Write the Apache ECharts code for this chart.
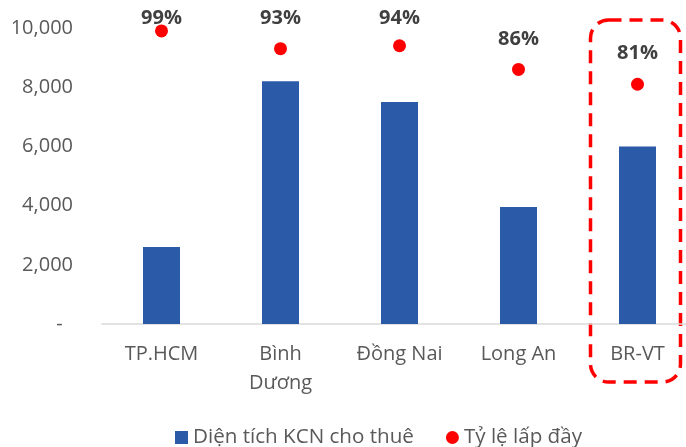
<!DOCTYPE html>
<html>
<head>
<meta charset="utf-8">
<script src="https://cdn.jsdelivr.net/npm/echarts@6/dist/echarts.min.js"></script>
<style>
html,body{margin:0;padding:0;background:#fff;}
#chart{width:686px;height:447px;}
</style>
</head>
<body>
<div id="chart"></div>
<script>
const categories = ['TP.HCM', 'Bình\nDương', 'Đồng Nai', 'Long An', 'BR-VT'];
const areaValues = [2600, 8200, 7500, 3950, 6000];
const fillRates = [99, 93, 94, 86, 81];
const yTicks = [0, 2000, 4000, 6000, 8000, 10000];
const seriesNames = ['Diện tích KCN cho thuê', 'Tỷ lệ lấp đầy'];
const highlightCategory = 'BR-VT';

const FONT = '"Open Sans", "Noto Sans", sans-serif';
const chart = echarts.init(document.getElementById('chart'), null, {renderer: 'canvas'});

const labelBase = {
  show: true, position: 'top', distance: 14, offset: [0, 0],
  formatter: p => p.value + '%',
  fontFamily: FONT, fontSize: 20, fontWeight: 'bold', color: '#404040'
};

function buildOption(scatterData) {
  return {
    animation: false,
    textStyle: {fontFamily: FONT},
    grid: {left: 102, top: 28, width: 595, height: 296, containLabel: false, outerBoundsMode: 'none'},
    legend: {
      left: 170, top: 422,
      itemWidth: 13, itemHeight: 13, itemGap: 32,
      textStyle: {fontFamily: FONT, fontSize: 20.6, color: '#595959'},
      data: [
        {name: seriesNames[0], icon: 'rect'},
        {name: seriesNames[1], icon: 'circle'}
      ]
    },
    xAxis: {
      type: 'category',
      data: categories,
      axisLine: {lineStyle: {color: '#d9d9d9', width: 1.5}},
      axisTick: {show: false},
      axisLabel: {fontFamily: FONT, fontSize: 20, color: '#595959', lineHeight: 29, margin: 16, interval: 0}
    },
    yAxis: [
      {
        type: 'value', min: yTicks[0], max: yTicks[yTicks.length - 1], interval: 2000,
        splitLine: {show: false}, axisLine: {show: false}, axisTick: {show: false},
        axisLabel: {
          fontFamily: FONT, fontSize: 20, color: '#595959', margin: 29,
          formatter: v => v === 0 ? '-  ' : v.toLocaleString('en-US')
        }
      },
      {type: 'value', min: 0, max: 100, show: false, splitLine: {show: false}}
    ],
    series: [
      {
        name: seriesNames[0], type: 'bar', data: areaValues, barWidth: 37,
        itemStyle: {color: '#2A5AA8'}
      },
      {
        name: seriesNames[1], type: 'scatter', yAxisIndex: 1, data: scatterData,
        symbol: 'circle', symbolSize: 13, itemStyle: {color: '#FF0000', opacity: 1},
        label: labelBase
      }
    ]
  };
}

chart.setOption(buildOption(fillRates));

// Keep data labels inside the chart area (like the original): labels that would
// rise above the top are pulled down to sit just above their dot.
const minLabelCenter = 19;
const gap = 30;
const adjusted = fillRates.map((v, i) => {
  const py = chart.convertToPixel({xAxisIndex: 0, yAxisIndex: 1}, [i, v])[1];
  const want = py - gap;
  if (want < minLabelCenter) {
    return {value: v, label: {offset: [0, minLabelCenter - want]}};
  }
  return v;
});
const cx = chart.convertToPixel({xAxisIndex: 0}, highlightCategory);
const opt = buildOption(adjusted);
opt.graphic = [{
  type: 'rect', silent: true,
  shape: {x: cx - 47, y: 20, width: 90, height: 362, r: 18},
  style: {fill: 'none', stroke: '#FF0000', lineWidth: 3.5, lineDash: [13, 8]}
}];
chart.setOption(opt, true);
</script>
</body>
</html>
